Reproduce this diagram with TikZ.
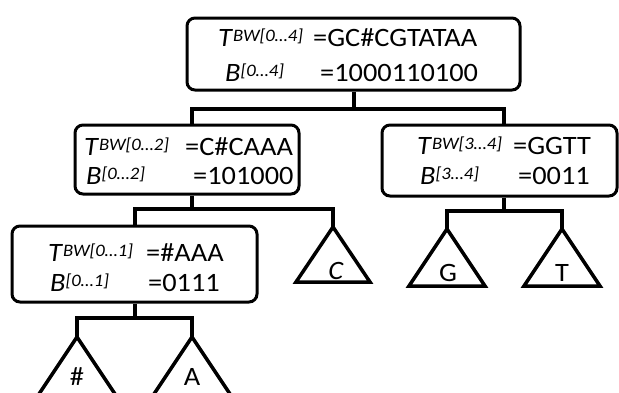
\documentclass[tikz,border=0pt]{standalone}
\usepackage{fontspec}
\setmainfont{Carlito}[FakeStretch=1.07]
\newcommand\Tbw[1]{\textit{T}\raisebox{5pt}{\fontsize{17.5}{17.5}\selectfont\itshape BW[#1]}}
\newcommand\Bsup[1]{\textit{B}\raisebox{5pt}{\fontsize{17.5}{17.5}\selectfont\itshape [#1]}}
\begin{document}
\begin{tikzpicture}[x=1pt,y=-1pt,
 box/.style={draw, line width=3pt, rounded corners=8pt, inner sep=0pt},
 conn/.style={line width=4pt, line join=miter},
 tri/.style={draw, line width=3.5pt, line join=miter},
 txt/.style={anchor=base west, inner sep=0pt, font=\fontsize{26.5}{26.5}\selectfont},
 lab/.style={anchor=base, inner sep=0pt, font=\fontsize{26.5}{26.5}\selectfont}]
\useasboundingbox (0,0) rectangle (619,392);
% boxes
\node[box, minimum width=333pt, minimum height=72pt] (root) at (353.5,54) {};
\node[box, minimum width=224pt, minimum height=69pt] (lc) at (187,159.5) {};
\node[box, minimum width=235pt, minimum height=71pt] (rc) at (499.5,160.5) {};
\node[box, minimum width=245pt, minimum height=76pt] (gc) at (134.5,264) {};
% texts root
\node[txt] (r1) at (218,46) {\Tbw{0…4}};
\node[txt] (r1v) at (313,46) {=GC\#CGTATAA};
\node[txt] (r2) at (225,81) {\Bsup{0…4}};
\node[txt] (r2v) at (320,81) {=1000110100};
% left child
\node[txt] (l1) at (84,155) {\Tbw{0…2}};
\node[txt] (l1v) at (185,155) {=C\#CAAA};
\node[txt] (l2) at (86,184) {\Bsup{0…2}};
\node[txt] (l2v) at (193,184) {=101000};
% right child
\node[txt] (q1) at (417,154) {\Tbw{3…4}};
\node[txt] (q1v) at (513,154) {=GGTT};
\node[txt] (q2) at (420,184) {\Bsup{3…4}};
\node[txt] (q2v) at (518,184) {=0011};
% grandchild
\node[txt] (g1) at (48,261) {\Tbw{0…1}};
\node[txt] (g1v) at (146,261) {=\#AAA};
\node[txt] (g2) at (50,291) {\Bsup{0…1}};
\node[txt] (g2v) at (148,291) {=0111};
% triangles
\coordinate (tH) at (77,337);
\coordinate (tA) at (192,337);
\coordinate (tC) at (333,227);
\coordinate (tG) at (447,229);
\coordinate (tT) at (562,229);
\draw[tri] (tH) -- ++(40,60) -- ++(-80,0) -- cycle;
\draw[tri] (tA) -- ++(40,60) -- ++(-80,0) -- cycle;
\draw[tri] (tC) -- ++(37,55) -- ++(-74,0) -- cycle;
\draw[tri] (tG) -- ++(38,57) -- ++(-76,0) -- cycle;
\draw[tri] (tT) -- ++(38,57) -- ++(-76,0) -- cycle;
\node[lab] (lH) at (77,385) {\#};
\node[lab] (lA) at (192,385) {A};
\node[lab] (lC) at (336,279) {\textit{C}};
\node[lab] (lG) at (448,281) {G};
\node[lab] (lT) at (562,281) {T};
% connectors
\coordinate (j1) at (353.5,109);
\coordinate (j2) at (192,209);
\coordinate (j3) at (504,211);
\coordinate (j4) at (134.5,318);
\draw[conn] (root.south) -- (j1);
\draw[conn] ([xshift=5pt]lc.north) |- (j1) -| ([xshift=4.5pt]rc.north);
\draw[conn] ([xshift=5pt]lc.south) -- (j2);
\draw[conn] (gc.north) |- (j2) -| (tC);
\draw[conn] ([xshift=4.5pt]rc.south) -- (j3);
\draw[conn] (tG) |- (j3) -| (tT);
\draw[conn] (gc.south) -- (j4);
\draw[conn] (tH) |- (j4) -| (tA);
\end{tikzpicture}
\end{document}
